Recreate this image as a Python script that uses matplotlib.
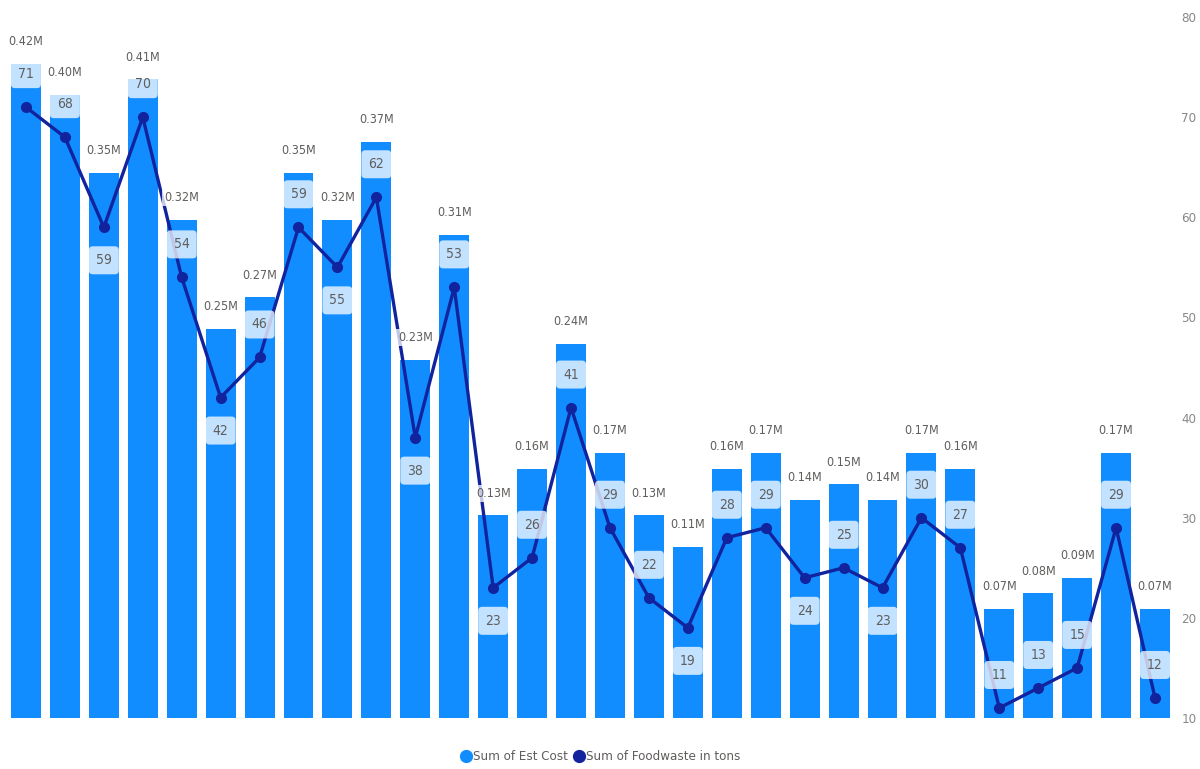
import matplotlib
matplotlib.use("Agg")
import matplotlib.pyplot as plt
from matplotlib.lines import Line2D
from matplotlib.patches import FancyBboxPatch

# Est cost per entry, in millions
est_cost_m = [0.42, 0.40, 0.35, 0.41, 0.32, 0.25, 0.27, 0.35, 0.32, 0.37,
              0.23, 0.31, 0.13, 0.16, 0.24, 0.17, 0.13, 0.11, 0.16, 0.17,
              0.14, 0.15, 0.14, 0.17, 0.16, 0.07, 0.08, 0.09, 0.17, 0.07]

# Foodwaste in tons
foodwaste_tons = [71, 68, 59, 70, 54, 42, 46, 59, 55, 62,
                  38, 53, 23, 26, 41, 29, 22, 19, 28, 29,
                  24, 25, 23, 30, 27, 11, 13, 15, 29, 12]

# Where the foodwaste label sits relative to its point
foodwaste_label_below = [False, False, True, False, False, True, False, False, True, False,
                         True, False, True, False, False, False, False, True, False, False,
                         True, False, True, False, False, False, False, False, False, False]

right_ticks = [10, 20, 30, 40, 50, 60, 70, 80]

BAR_COLOR = "#118DFF"
LINE_COLOR = "#12239E"
TEXT_COLOR = "#605E5C"
BAR_WIDTH = 0.77

plt.rcParams["font.family"] = ["DejaVu Sans"]
plt.rcParams["font.stretch"] = "condensed"

fig = plt.figure(figsize=(12, 7.69), dpi=100)
ax = fig.add_axes([6.5 / 1200, 51 / 769, 1168 / 1200, 701 / 769])
ax2 = ax.twinx()

x = list(range(len(est_cost_m)))

ax.bar(x, est_cost_m, width=BAR_WIDTH, color=BAR_COLOR, zorder=2)
ax.set_xlim(-0.5, len(x) - 0.5)
ax.set_ylim(0, 0.45)
ax.axis("off")

ax2.plot(x, foodwaste_tons, color=LINE_COLOR, lw=2.4, marker="o", ms=7,
         solid_joinstyle="round", zorder=2)
ax2.set_ylim(10, 80)
ax2.set_yticks(right_ticks)
ax2.tick_params(axis="y", length=0, pad=5, labelsize=9.5, labelcolor="#8a8886")
ax2.set_xticks([])
for s in ax2.spines.values():
    s.set_visible(False)
for s in ax.spines.values():
    s.set_visible(False)

cost_box = dict(boxstyle="square,pad=0.15", fc="white", ec="none", alpha=0.75)

for i, c in enumerate(est_cost_m):
    ax2.annotate(f"{c:.2f}M", xy=(i, c), xycoords=ax.transData,
                 xytext=(0, 16), textcoords="offset points",
                 ha="center", va="center", fontsize=9, color=TEXT_COLOR,
                 bbox=cost_box, zorder=5)

# pixel-based sizes for the foodwaste label chips
fig.canvas.draw()
px_x = ax2.transData.transform((1, 0))[0] - ax2.transData.transform((0, 0))[0]
px_y = ax2.transData.transform((0, 1))[1] - ax2.transData.transform((0, 0))[1]
chip_h = 28 / px_y
chip_off = 33 / px_y
rsize = 4 / px_x
aspect = px_x / px_y

for i, (v, below) in enumerate(zip(foodwaste_tons, foodwaste_label_below)):
    cy = v - chip_off if below else v + chip_off
    chip = FancyBboxPatch((i - BAR_WIDTH / 2, cy - chip_h / 2), BAR_WIDTH, chip_h,
                          boxstyle=f"round,pad=0,rounding_size={rsize}",
                          mutation_aspect=aspect,
                          fc="white", ec="none", alpha=0.75, zorder=4)
    ax2.add_patch(chip)
    ax2.text(i, cy, f"{v}", ha="center", va="center", fontsize=10,
             color=TEXT_COLOR, zorder=5)

handles = [
    Line2D([], [], marker="o", ls="none", ms=8.5, color=BAR_COLOR, label="Sum of Est Cost"),
    Line2D([], [], marker="o", ls="none", ms=8.5, color=LINE_COLOR, label="Sum of Foodwaste in tons"),
]
fig.legend(handles=handles, loc="center", bbox_to_anchor=(0.5, 1 - 757 / 769),
           ncol=2, frameon=False, handletextpad=0.0, columnspacing=0.4,
           fontsize=9.5, labelcolor=TEXT_COLOR, handlelength=1.0)

fig.savefig("out.png", dpi=100, facecolor="white")
